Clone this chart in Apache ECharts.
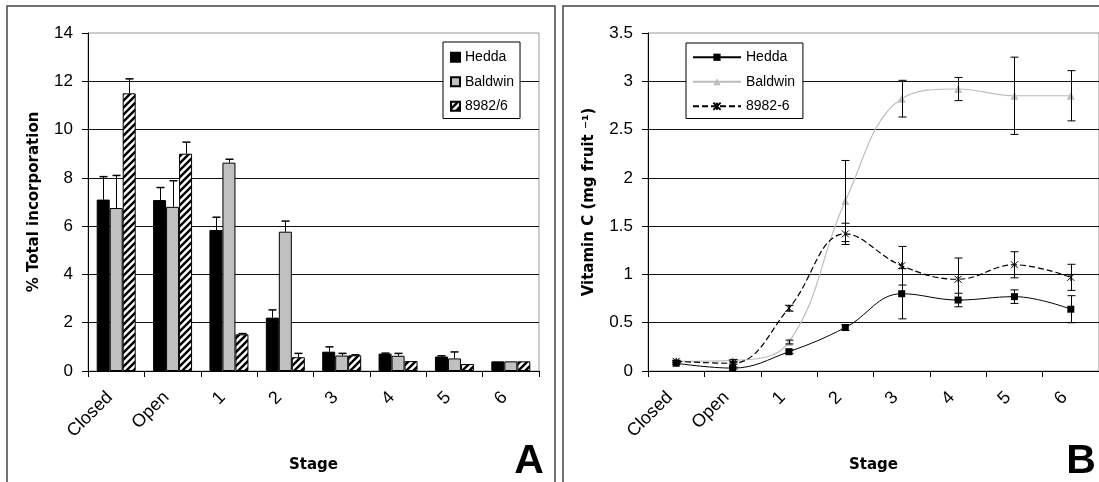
<!DOCTYPE html>
<html><head><meta charset="utf-8">
<script src="https://cdn.jsdelivr.net/npm/echarts@6/dist/echarts.min.js"></script>
<style>html,body{margin:0;padding:0;background:#fff}#c{width:1099px;height:482px}</style>
</head><body><div id="c"></div>
<script>
// ---- data ----
const stages = ['Closed', 'Open', '1', '2', '3', '4', '5', '6'];
const yTicksA = [0, 2, 4, 6, 8, 10, 12, 14];
const yTicksB = [0, 0.5, 1, 1.5, 2, 2.5, 3, 3.5];

// Panel A: % total incorporation (bars) and upper error
const incHedda      = [7.1, 7.08, 5.84, 2.21, 0.8, 0.72, 0.6, 0.4];
const incHeddaErr   = [0.95, 0.52, 0.53, 0.32, 0.2, 0.02, 0.03, 0];
const incBaldwin    = [6.75, 6.8, 8.63, 5.77, 0.64, 0.63, 0.52, 0.4];
const incBaldwinErr = [1.35, 1.08, 0.14, 0.44, 0.09, 0.1, 0.27, 0];
const inc8982       = [11.5, 9.0, 1.52, 0.57, 0.65, 0.41, 0.29, 0.4];
const inc8982Err    = [0.6, 0.48, 0.03, 0.16, 0.02, 0, 0, 0];

// Panel B: vitamin C (mg fruit-1) and symmetric error
const vcHedda      = [0.08, 0.03, 0.2, 0.45, 0.8, 0.735, 0.77, 0.64];
const vcHeddaErr   = [0.01, 0.01, 0.02, 0.03, 0.26, 0.07, 0.07, 0.14];
const vcBaldwin    = [0.1, 0.11, 0.3, 1.76, 2.82, 2.92, 2.85, 2.85];
const vcBaldwinErr = [0.01, 0.01, 0.02, 0.42, 0.19, 0.12, 0.4, 0.26];
const vc8982       = [0.1, 0.08, 0.65, 1.42, 1.09, 0.95, 1.1, 0.97];
const vc8982Err    = [0.01, 0.01, 0.03, 0.11, 0.2, 0.22, 0.135, 0.135];

// ---- helpers ----
function hatchCanvas() {
  const s = 7, c = document.createElement('canvas');
  c.width = s; c.height = s;
  const g = c.getContext('2d');
  g.fillStyle = '#fff'; g.fillRect(0, 0, s, s);
  g.strokeStyle = '#000'; g.lineWidth = 2.4; g.lineCap = 'square';
  g.beginPath();
  g.moveTo(-2, s + 2); g.lineTo(s + 2, -2);
  g.moveTo(-2, 2); g.lineTo(2, -2);
  g.moveTo(s - 2, s + 2); g.lineTo(s + 2, s - 2);
  g.stroke();
  return c;
}
const hatch = { image: hatchCanvas(), repeat: 'repeat' };
const BW = 13;

function barErr(vals, errs, off) {
  return {
    type: 'custom', xAxisIndex: 0, yAxisIndex: 0, z: 5, silent: true,
    encode: { x: 0, y: [1, 2] },
    data: vals.map((v, i) => [i, v, v + errs[i]]),
    renderItem: (p, api) => {
      if (api.value(2) - api.value(1) <= 0) return null;
      const a = api.coord([api.value(0), api.value(1)]);
      const b = api.coord([api.value(0), api.value(2)]);
      const x = Math.round(a[0] + off) + 0.5;
      return { type: 'group', children: [
        { type: 'line', shape: { x1: x, y1: a[1], x2: x, y2: b[1] }, style: { stroke: '#000', lineWidth: 1 } },
        { type: 'line', shape: { x1: x - 4, y1: b[1], x2: x + 4, y2: b[1] }, style: { stroke: '#000', lineWidth: 1.5 } }
      ] };
    }
  };
}
function symErr(vals, errs) {
  return {
    type: 'custom', xAxisIndex: 1, yAxisIndex: 1, z: 4, silent: true,
    encode: { x: 0, y: [1, 2] },
    data: vals.map((v, i) => [i, v - errs[i], v + errs[i]]),
    renderItem: (p, api) => {
      const lo = api.coord([api.value(0), api.value(1)]);
      const hi = api.coord([api.value(0), api.value(2)]);
      const x = Math.round(lo[0]) + 0.5, h = 4;
      return { type: 'group', children: [
        { type: 'line', shape: { x1: x, y1: lo[1], x2: x, y2: hi[1] }, style: { stroke: '#000', lineWidth: 1 } },
        { type: 'line', shape: { x1: x - h, y1: lo[1], x2: x + h, y2: lo[1] }, style: { stroke: '#000', lineWidth: 1 } },
        { type: 'line', shape: { x1: x - h, y1: hi[1], x2: x + h, y2: hi[1] }, style: { stroke: '#000', lineWidth: 1 } }
      ] };
    }
  };
}

const tickFont = { fontFamily: 'Liberation Sans', fontSize: 17, color: '#000' };
const nameFont = { fontFamily: 'DejaVu Sans', fontWeight: 'bold', fontSize: 15, color: '#000' };

function xAx(gi) {
  return {
    type: 'category', gridIndex: gi, data: stages, boundaryGap: true,
    axisLine: { show: true, lineStyle: { color: '#000', width: 1 } },
    axisTick: { show: true, length: 6, alignWithLabel: false, lineStyle: { color: '#000' } },
    axisLabel: { rotate: 45, interval: 0, margin: 30, verticalAlign: 'bottom', fontSize: 18, fontFamily: 'Liberation Sans', color: '#000' },
    splitLine: { show: false },
    name: 'Stage', nameLocation: 'middle', nameGap: 87, nameTextStyle: nameFont,
    nameMoveOverlap: false
  };
}
function yAx(gi, ticks, name, gap) {
  return {
    type: 'value', gridIndex: gi, min: ticks[0], max: ticks[ticks.length - 1],
    interval: ticks[1] - ticks[0],
    axisLine: { show: true, lineStyle: { color: '#000', width: 1 } },
    axisTick: { show: true, length: 6, inside: false, lineStyle: { color: '#000' } },
    axisLabel: Object.assign({ margin: 15 }, tickFont),
    splitLine: { show: true, showMaxLine: false, lineStyle: { color: '#111', width: 1 } },
    name: name, nameLocation: 'middle', nameGap: gap, nameTextStyle: nameFont,
    nameMoveOverlap: false
  };
}

const chart = echarts.init(document.getElementById('c'), null, { renderer: 'canvas' });
chart.setOption({
  animation: false,
  backgroundColor: '#fff',
  grid: [
    { left: 88, top: 33, width: 451, height: 338, show: true, borderColor: '#999', borderWidth: 1, backgroundColor: '#fff', containLabel: false, outerBoundsMode: 'none' },
    { left: 648, top: 33, width: 451, height: 338, show: true, borderColor: '#999', borderWidth: 1, backgroundColor: '#fff', containLabel: false, outerBoundsMode: 'none' }
  ],
  xAxis: [xAx(0), xAx(1)],
  yAxis: [yAx(0, yTicksA, '% Total incorporation', 46), yAx(1, yTicksB, 'Vitamin C (mg fruit \u207B\u00B9)', 51)],
  legend: [
    {
      orient: 'vertical', left: 443, top: 42, padding: [7, 6, 4, 7], itemGap: 8,
      itemWidth: 9, itemHeight: 9, icon: 'rect',
      borderColor: '#000', borderWidth: 1, backgroundColor: '#fff',
      textStyle: { fontFamily: 'Liberation Sans', fontSize: 14, color: '#000', lineHeight: 16.5 },
      data: ['Hedda', 'Baldwin', '8982/6']
    },
    {
      orient: 'vertical', left: 686, top: 43, padding: [6, 4, 4, 6], itemGap: 8,
      itemWidth: 48, itemHeight: 9,
      borderColor: '#000', borderWidth: 1, backgroundColor: '#fff',
      textStyle: { fontFamily: 'Liberation Sans', fontSize: 14, color: '#000', lineHeight: 16.5 },
      data: ['Hedda ', 'Baldwin ', '8982-6']
    }
  ],
  graphic: [
    { type: 'rect', shape: { x: 7, y: 6, width: 548, height: 500 }, style: { fill: 'none', stroke: '#444', lineWidth: 1.5 }, z: 100, silent: true },
    { type: 'rect', shape: { x: 563, y: 6, width: 545, height: 500 }, style: { fill: 'none', stroke: '#444', lineWidth: 1.5 }, z: 100, silent: true },
    { type: 'text', style: { x: 529, y: 462, text: 'A', font: 'bold 41px "Liberation Sans"', fill: '#000', textAlign: 'center', textVerticalAlign: 'middle' }, z: 100 },
    { type: 'text', style: { x: 1081, y: 462, text: 'B', font: 'bold 41px "Liberation Sans"', fill: '#000', textAlign: 'center', textVerticalAlign: 'middle' }, z: 100 }
  ],
  series: [
    { name: 'Hedda', type: 'bar', xAxisIndex: 0, yAxisIndex: 0, data: incHedda, barWidth: BW, barGap: '0%',
      itemStyle: { color: '#000', borderColor: '#000', borderWidth: 1 } },
    { name: 'Baldwin', type: 'bar', xAxisIndex: 0, yAxisIndex: 0, data: incBaldwin, barWidth: BW, barGap: '0%',
      itemStyle: { color: '#c0c0c0', borderColor: '#000', borderWidth: 1 } },
    { name: '8982/6', type: 'bar', xAxisIndex: 0, yAxisIndex: 0, data: inc8982, barWidth: BW, barGap: '0%',
      itemStyle: { color: hatch, borderColor: '#000', borderWidth: 1 } },
    barErr(incHedda, incHeddaErr, -BW),
    barErr(incBaldwin, incBaldwinErr, 0),
    barErr(inc8982, inc8982Err, BW),

    { name: 'Hedda ', type: 'line', xAxisIndex: 1, yAxisIndex: 1, data: vcHedda, smooth: 0.4,
      symbol: 'rect', symbolSize: 7, z: 3,
      lineStyle: { color: '#000', width: 1 }, itemStyle: { color: '#000' } },
    { name: 'Baldwin ', type: 'line', xAxisIndex: 1, yAxisIndex: 1, data: vcBaldwin, smooth: 0.4,
      symbol: 'triangle', symbolSize: 8, z: 2,
      lineStyle: { color: '#bdbdbd', width: 1.2 }, itemStyle: { color: '#bdbdbd' } },
    { name: '8982-6', type: 'line', xAxisIndex: 1, yAxisIndex: 1, data: vc8982, smooth: 0.4,
      symbol: 'path://M0,0L10,10M10,0L0,10M5,0L5,10', symbolSize: 7, z: 3,
      lineStyle: { color: '#000', width: 1.2, type: [6, 3] },
      itemStyle: { color: 'rgba(0,0,0,0)', borderColor: '#000', borderWidth: 1 } },
    symErr(vcHedda, vcHeddaErr),
    symErr(vcBaldwin, vcBaldwinErr),
    symErr(vc8982, vc8982Err)
  ]
});
</script>
</body></html>
